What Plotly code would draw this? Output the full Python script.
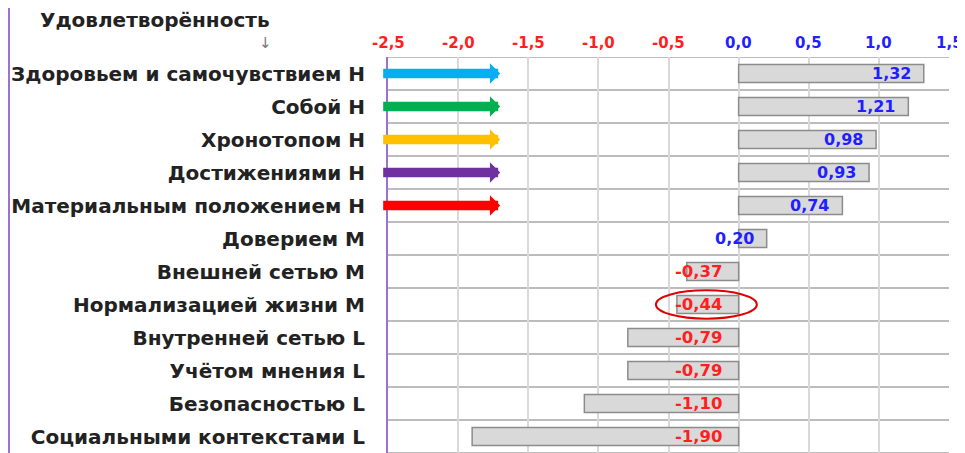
import plotly.graph_objects as go

# data
categories = [
    "Здоровьем и самочувствием Н",
    "Собой Н",
    "Хронотопом Н",
    "Достижениями Н",
    "Материальным положением Н",
    "Доверием М",
    "Внешней сетью М",
    "Нормализацией жизни М",
    "Внутренней сетью L",
    "Учётом мнения L",
    "Безопасностью L",
    "Социальными контекстами L",
]
values = [1.32, 1.21, 0.98, 0.93, 0.74, 0.20, -0.37, -0.44, -0.79, -0.79, -1.10, -1.90]
tick_values = [-2.5, -2.0, -1.5, -1.0, -0.5, 0.0, 0.5, 1.0, 1.5]
arrow_colors = ["#00b0f0", "#00b050", "#ffc000", "#7030a0", "#ff0000"]
arrow_from, arrow_to = -2.545, -1.70
circled_row = 7

FONT = "DejaVu Sans"
BLUE = "#1f1fff"
RED = "#ff1f1f"
PURPLE = "#9b72cf"

rows = list(range(len(categories)))

fig = go.Figure()
fig.add_trace(
    go.Bar(
        x=values,
        y=rows,
        orientation="h",
        width=0.55,
        marker=dict(color="#d9d9d9", line=dict(color="#8c8c8c", width=1.5)),
        hoverinfo="skip",
    )
)

# value labels
for i, v in enumerate(values):
    txt = f"{v:.2f}".replace(".", ",")
    if v >= 0:
        fig.add_annotation(
            x=v, y=i, text=txt, showarrow=False, xanchor="right", xshift=-11,
            font=dict(family=FONT, size=16, color=BLUE, weight="bold"),
        )
    else:
        fig.add_annotation(
            x=0, y=i, text=txt, showarrow=False, xanchor="right", xshift=-14,
            font=dict(family=FONT, size=16.5, color=RED, weight="bold"),
        )

# coloured top tick labels
for t in tick_values:
    fig.add_annotation(
        x=t, y=1, yref="paper", yanchor="bottom", yshift=3,
        text=f"{t:.1f}".replace(".", ","), showarrow=False,
        font=dict(family=FONT, size=15, color=RED if t < 0 else BLUE, weight="bold"),
    )

# arrows
for i, c in enumerate(arrow_colors):
    fig.add_annotation(
        x=arrow_to, y=i, ax=arrow_from, ay=i, axref="x", ayref="y",
        showarrow=True, arrowhead=1, arrowsize=0.36, arrowwidth=9.5, arrowcolor=c,
        text="",
    )

# row separators
for b in range(len(categories) + 1):
    fig.add_shape(
        type="line", xref="paper", x0=0, x1=1, y0=b - 0.5, y1=b - 0.5,
        line=dict(color="#a6a6a6", width=1.5), layer="below",
    )

# circled label
fig.add_shape(
    type="circle", x0=-0.59, x1=0.13, y0=circled_row - 0.43, y1=circled_row + 0.43,
    line=dict(color="#e00000", width=2),
)

# title and small down arrow
fig.add_annotation(
    x=-0.4153, y=1.0934, xref="paper", yref="paper", text="Удовлетворённость",
    xanchor="center", yanchor="middle", showarrow=False,
    font=dict(family=FONT, size=20, color="#222222", weight="bold"),
)
fig.add_annotation(
    x=-0.219, y=1.035, xref="paper", yref="paper", text="↓",
    xanchor="center", yanchor="middle", showarrow=False,
    font=dict(family=FONT, size=15, color="#777777"),
)

# left purple border of the sheet
fig.add_shape(
    type="line", xref="paper", yref="paper", x0=-0.6756, x1=-0.6756, y0=-0.1, y1=1.2,
    line=dict(color=PURPLE, width=2),
)

# page body has an 8px margin, so the margins are offset by it
fig.update_layout(
    width=965,
    height=453,
    margin=dict(l=380, r=24, t=49, b=8, autoexpand=False),
    showlegend=False,
    plot_bgcolor="white",
    paper_bgcolor="white",
)
fig.update_xaxes(
    range=[-2.5, 1.5], dtick=0.5, showgrid=True, gridcolor="#d9d9d9", gridwidth=1.5,
    showticklabels=False, zeroline=False, showline=False, automargin=False,
)
fig.update_yaxes(
    range=[len(categories) - 0.5, -0.5], tickmode="array", tickvals=rows,
    ticktext=categories, showgrid=False, zeroline=False,
    showline=True, linecolor=PURPLE, linewidth=2, automargin=False,
    ticks="outside", ticklen=17, tickcolor="rgba(0,0,0,0)",
    tickfont=dict(family=FONT, size=20, color="#222222", weight="bold"),
)
fig.write_html("out.html")
